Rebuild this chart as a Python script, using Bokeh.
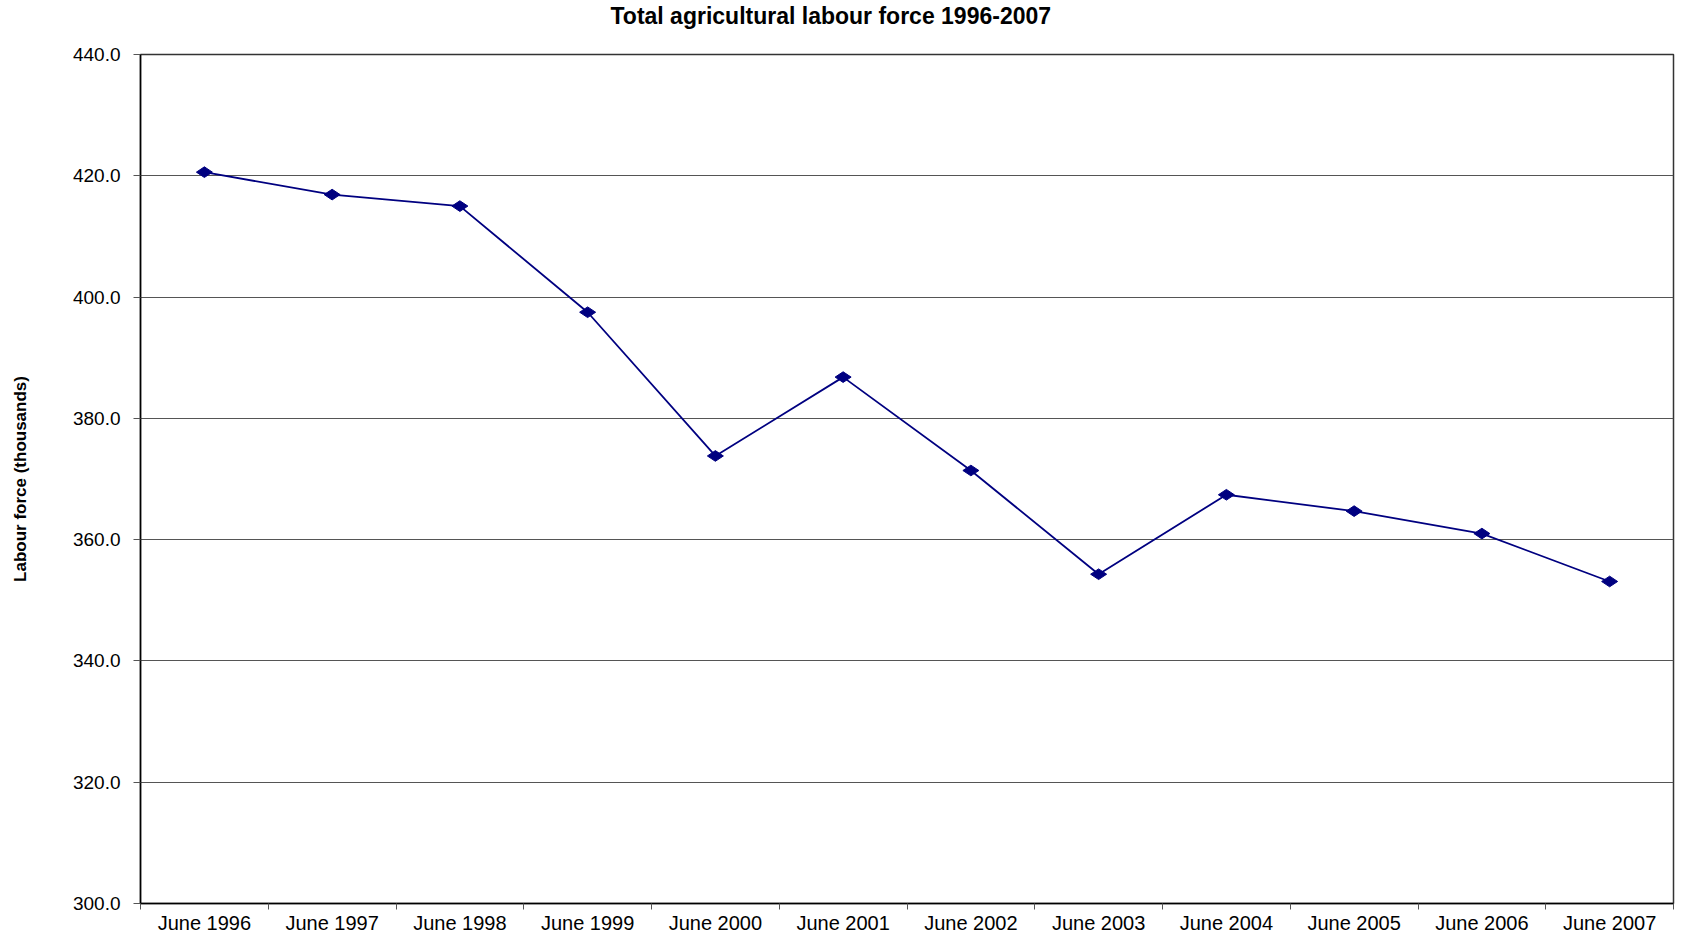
import numpy as np
from bokeh.plotting import figure
from bokeh.models import FixedTicker, Range1d, Title
from bokeh.embed import file_html
from bokeh.resources import INLINE

categories = ["June 1996", "June 1997", "June 1998", "June 1999", "June 2000", "June 2001",
              "June 2002", "June 2003", "June 2004", "June 2005", "June 2006", "June 2007"]
labour_force = [420.6, 416.9, 415.0, 397.5, 373.8, 386.8, 371.4, 354.3, 367.4, 364.7, 361.0, 353.1]
y_ticks = [300, 320, 340, 360, 380, 400, 420, 440]
title_text = "Total agricultural labour force 1996-2007"

n = len(categories)
xs = [i + 0.5 for i in range(n)]

p = figure(width=1675, height=936, output_backend="svg", toolbar_location=None,
           x_range=Range1d(0, n), y_range=Range1d(300, 440),
           min_border_left=140, min_border_right=2, min_border_top=54, min_border_bottom=20)

p.title = Title(text=title_text + "\n ", align="left", offset=470,
                text_font="Liberation Sans", text_font_size="23px", text_font_style="bold",
                text_color="black", standoff=0)

p.line(xs, labour_force, line_color="#000080", line_width=1.8)
p.scatter(xs, labour_force, marker="diamond", size=16, angle=np.pi / 2,
          fill_color="#000080", line_color="#000080")

# x axis
p.xaxis.ticker = FixedTicker(ticks=xs, minor_ticks=list(range(n + 1)))
p.xaxis.major_label_overrides = {x: c for x, c in zip(xs, categories)}
p.xaxis.major_tick_out = 0
p.xaxis.major_tick_in = 0
p.xaxis.minor_tick_out = 6
p.xaxis.minor_tick_in = 0
p.xaxis.minor_tick_line_color = "#555555"
p.xaxis.major_label_standoff = 2
p.xaxis.major_label_text_font = "Liberation Sans"
p.xaxis.major_label_text_font_size = "20px"
p.xaxis.major_label_text_color = "black"
p.xaxis.axis_line_color = "black"
p.xaxis.axis_line_width = 1.5

# y axis
p.yaxis.ticker = FixedTicker(ticks=y_ticks)
p.yaxis.major_label_overrides = {t: f"{t:.1f}" for t in y_ticks}
p.yaxis.minor_tick_line_color = None
p.yaxis.major_tick_out = 7
p.yaxis.major_tick_in = 0
p.yaxis.major_tick_line_color = "#555555"
p.yaxis.major_label_standoff = 13
p.yaxis.major_label_text_font = "Liberation Sans"
p.yaxis.major_label_text_font_size = "19px"
p.yaxis.major_label_text_color = "black"
p.yaxis.axis_line_color = "black"
p.yaxis.axis_line_width = 1.5
p.yaxis.axis_label = "Labour force (thousands)"
p.yaxis.axis_label_text_font = "Liberation Sans"
p.yaxis.axis_label_text_font_size = "17px"
p.yaxis.axis_label_text_font_style = "bold"
p.yaxis.axis_label_text_color = "black"
p.yaxis.axis_label_standoff = 40

p.xgrid.grid_line_color = None
p.ygrid.grid_line_color = "#555555"
p.ygrid.grid_line_width = 1.2
p.outline_line_color = "#333333"
p.outline_line_width = 1.5
p.background_fill_color = "white"
p.border_fill_color = "white"

open("out.html", "w").write(file_html(p, INLINE))
